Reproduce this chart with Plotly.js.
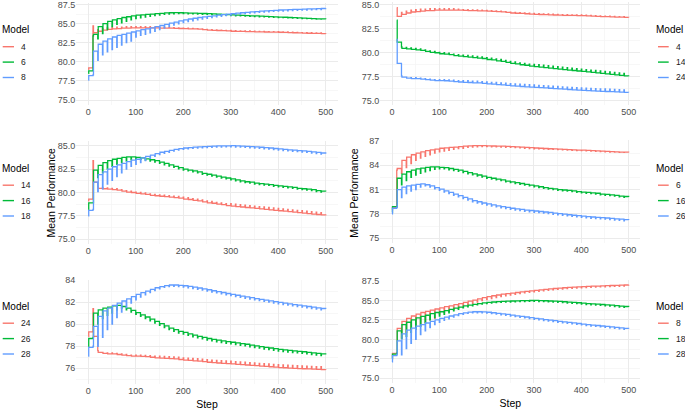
<!DOCTYPE html>
<html>
<head>
<meta charset="utf-8">
<script src="https://cdn.plot.ly/plotly-3.0.1.min.js"></script>
<style>html,body{margin:0;padding:0;background:#fff;}#chart{width:685px;height:410px;}</style>
</head>
<body>
<div id="chart"></div>
<script>
// Training step (x): at each 10-step checkpoint a one-step value, then the level for the rest of the block
const steps = [0,1,10,11,20,21,30,31,40,41,50,51,60,61,70,71,80,81,90,91,100,101,110,111,120,121,130,131,140,141,150,151,160,161,170,171,180,181,190,191,200,201,210,211,220,221,230,231,240,241,250,251,260,261,270,271,280,281,290,291,300,301,310,311,320,321,330,331,340,341,350,351,360,361,370,371,380,381,390,391,400,401,410,411,420,421,430,431,440,441,450,451,460,461,470,471,480,481,490,491,500];

// Mean performance per model
const m4 = [79.0,79.2, 84.7,83.8, 84.2,84.0, 84.35,84.15, 84.45,84.25, 84.5,84.3, 84.55,84.35, 84.55,84.4, 84.6,84.4, 84.6,84.45, 84.6,84.45, 84.6,84.45, 84.6,84.45, 84.6,84.45, 84.55,84.45, 84.5,84.42, 84.5,84.4, 84.48,84.4, 84.46,84.38, 84.45,84.36, 84.42,84.35, 84.4,84.32, 84.38,84.3, 84.35,84.27, 84.3,84.22, 84.24,84.15, 84.2,84.12, 84.18,84.1, 84.15,84.07, 84.12,84.04, 84.1,84.0, 84.08,83.99, 84.06,83.97, 84.05,83.96, 84.03,83.94, 84.0,83.92, 83.98,83.91, 83.97,83.9, 83.96,83.89, 83.95,83.88, 83.95,83.87, 83.93,83.85, 83.9,83.82, 83.88,83.8, 83.85,83.78, 83.83,83.76, 83.81,83.74, 83.8,83.72, 83.78,83.71, 83.77,83.7, 83.68];
const m6 = [78.5,78.8, 83.4,83.6, 83.0,84.6, 83.7,85.0, 84.2,85.3, 84.6,85.5, 84.9,85.65, 85.1,85.8, 85.3,85.9, 85.5,86.0, 85.65,86.1, 85.75,86.15, 85.85,86.2, 85.95,86.25, 86.05,86.3, 86.1,86.35, 86.2,86.4, 86.25,86.42, 86.28,86.43, 86.3,86.42, 86.3,86.4, 86.28,86.38, 86.27,86.37, 86.25,86.35, 86.22,86.32, 86.2,86.3, 86.17,86.27, 86.14,86.24, 86.1,86.2, 86.07,86.17, 86.04,86.13, 86.02,86.1, 86.0,86.07, 85.97,86.04, 85.95,86.02, 85.92,86.0, 85.9,85.97, 85.87,85.94, 85.84,85.91, 85.82,85.88, 85.8,85.86, 85.77,85.83, 85.74,85.8, 85.72,85.77, 85.7,85.75, 85.67,85.72, 85.64,85.69, 85.62,85.66, 85.6,85.63, 85.58,85.61, 85.58];
const m8 = [77.6,78.2, 78.3,81.4, 80.2,82.3, 80.9,82.7, 81.3,83.0, 81.6,83.25, 81.9,83.45, 82.2,83.6, 82.5,83.75, 82.7,83.9, 83.25,84.05, 83.45,84.2, 83.6,84.3, 83.8,84.45, 84.0,84.6, 84.2,84.75, 84.4,84.9, 84.6,85.05, 84.8,85.2, 84.97,85.35, 85.12,85.5, 85.25,85.6, 85.37,85.7, 85.5,85.8, 85.59,85.87, 85.7,85.95, 85.79,86.02, 85.88,86.1, 85.96,86.17, 86.04,86.24, 86.1,86.3, 86.17,86.36, 86.24,86.42, 86.3,86.48, 86.36,86.53, 86.41,86.58, 86.46,86.63, 86.51,86.67, 86.55,86.7, 86.59,86.74, 86.63,86.78, 86.65,86.8, 86.68,86.83, 86.7,86.85, 86.73,86.87, 86.76,86.9, 86.78,86.92, 86.8,86.94, 86.82,86.96, 86.84,86.98, 87.0];
const m14 = [79.1,79.3, 83.4,81.1, 80.6,80.45, 80.55,80.4, 80.5,80.35, 80.45,80.3, 80.4,80.25, 80.3,80.15, 80.2,80.05, 80.15,80.0, 80.05,79.9, 80.0,79.85, 79.95,79.8, 79.85,79.7, 79.8,79.65, 79.75,79.6, 79.72,79.55, 79.67,79.5, 79.62,79.45, 79.57,79.4, 79.5,79.3, 79.45,79.25, 79.35,79.15, 79.3,79.1, 79.2,79.0, 79.1,78.9, 79.05,78.85, 78.95,78.75, 78.9,78.7, 78.82,78.6, 78.8,78.55, 78.75,78.5, 78.7,78.45, 78.65,78.4, 78.6,78.35, 78.55,78.3, 78.5,78.25, 78.45,78.2, 78.4,78.15, 78.35,78.1, 78.3,78.05, 78.25,78.0, 78.2,77.95, 78.15,77.9, 78.1,77.85, 78.05,77.8, 78.0,77.75, 77.95,77.7, 77.9,77.65, 77.85,77.6, 77.55];
const m16 = [78.2,78.9, 78.9,82.4, 81.6,82.9, 82.1,83.2, 82.5,83.4, 82.8,83.55, 83.0,83.65, 83.2,83.75, 83.35,83.8, 83.5,83.8, 83.55,83.75, 83.55,83.7, 83.45,83.6, 83.35,83.5, 83.25,83.4, 83.1,83.25, 82.95,83.1, 82.82,82.95, 82.68,82.8, 82.53,82.65, 82.4,82.5, 82.3,82.4, 82.2,82.3, 82.1,82.2, 81.95,82.05, 81.85,81.95, 81.75,81.85, 81.65,81.75, 81.55,81.65, 81.45,81.55, 81.35,81.45, 81.25,81.35, 81.15,81.25, 81.05,81.15, 81.0,81.1, 80.9,81.0, 80.85,80.95, 80.8,80.9, 80.75,80.85, 80.65,80.75, 80.6,80.7, 80.55,80.65, 80.5,80.6, 80.45,80.55, 80.35,80.45, 80.3,80.4, 80.25,80.35, 80.2,80.3, 80.1,80.2, 80.05,80.15, 80.1];
const m18 = [77.5,78.1, 78.2,81.1, 80.1,81.9, 80.4,82.2, 80.9,82.5, 81.3,82.75, 81.7,82.95, 82.1,83.1, 82.5,83.3, 82.8,83.45, 83.0,83.55, 83.2,83.7, 83.4,83.85, 83.65,84.0, 83.85,84.15, 84.05,84.3, 84.18,84.4, 84.3,84.5, 84.42,84.6, 84.52,84.68, 84.6,84.75, 84.66,84.8, 84.72,84.85, 84.75,84.88, 84.78,84.9, 84.8,84.93, 84.83,84.95, 84.85,84.97, 84.86,84.98, 84.87,84.99, 84.88,85.0, 84.86,84.98, 84.84,84.96, 84.81,84.93, 84.78,84.9, 84.75,84.87, 84.71,84.83, 84.67,84.79, 84.63,84.75, 84.58,84.7, 84.53,84.65, 84.48,84.6, 84.44,84.56, 84.4,84.52, 84.36,84.48, 84.32,84.44, 84.28,84.4, 84.22,84.34, 84.16,84.28, 84.1,84.22, 84.15];
const m24 = [78.9,79.3, 81.4,78.9, 77.6,77.45, 77.45,77.35, 77.4,77.3, 77.4,77.3, 77.35,77.25, 77.3,77.2, 77.25,77.15, 77.2,77.1, 77.2,77.1, 77.2,77.08, 77.17,77.05, 77.15,77.0, 77.1,76.95, 77.1,76.92, 77.08,76.9, 77.05,76.87, 77.03,76.85, 77.0,76.8, 76.95,76.75, 76.92,76.72, 76.9,76.68, 76.87,76.65, 76.82,76.6, 76.78,76.55, 76.75,76.52, 76.72,76.48, 76.7,76.45, 76.67,76.42, 76.65,76.4, 76.6,76.36, 76.58,76.33, 76.55,76.3, 76.52,76.27, 76.5,76.24, 76.45,76.2, 76.42,76.17, 76.4,76.14, 76.36,76.1, 76.33,76.07, 76.3,76.05, 76.28,76.02, 76.26,76.0, 76.24,75.98, 76.22,75.96, 76.2,75.94, 76.18,75.92, 76.16,75.9, 76.14,75.88, 75.87];
const m26 = [78.0,78.7, 78.8,81.0, 80.0,81.3, 80.5,81.45, 80.8,81.55, 81.0,81.65, 81.3,81.7, 81.45,81.6, 81.3,81.45, 81.1,81.25, 80.9,81.05, 80.7,80.85, 80.5,80.65, 80.3,80.45, 80.1,80.25, 79.9,80.05, 79.7,79.85, 79.5,79.65, 79.35,79.5, 79.2,79.35, 79.1,79.25, 78.98,79.12, 78.86,79.0, 78.76,78.9, 78.66,78.8, 78.56,78.7, 78.48,78.62, 78.4,78.55, 78.33,78.48, 78.27,78.42, 78.21,78.36, 78.15,78.3, 78.09,78.24, 78.03,78.18, 77.95,78.1, 77.88,78.03, 77.82,77.97, 77.75,77.9, 77.69,77.84, 77.63,77.78, 77.57,77.72, 77.52,77.67, 77.47,77.62, 77.43,77.58, 77.39,77.54, 77.35,77.5, 77.3,77.45, 77.25,77.4, 77.2,77.35, 77.15,77.3, 77.25];
const m28 = [77.1,77.9, 78.0,79.8, 78.0,80.7, 78.8,81.2, 79.5,81.45, 80.0,81.7, 80.6,81.9, 81.1,82.1, 81.5,82.3, 81.9,82.5, 82.2,82.7, 82.45,82.85, 82.65,83.0, 82.85,83.15, 83.05,83.3, 83.2,83.4, 83.33,83.5, 83.4,83.55, 83.42,83.55, 83.4,83.52, 83.36,83.48, 83.3,83.42, 83.23,83.35, 83.16,83.28, 83.08,83.2, 83.0,83.12, 82.91,83.03, 82.83,82.95, 82.75,82.87, 82.66,82.78, 82.58,82.7, 82.5,82.62, 82.42,82.54, 82.35,82.47, 82.28,82.4, 82.2,82.32, 82.13,82.25, 82.06,82.18, 81.99,82.11, 81.92,82.04, 81.85,81.97, 81.78,81.9, 81.72,81.84, 81.66,81.78, 81.6,81.72, 81.54,81.66, 81.48,81.6, 81.42,81.54, 81.36,81.48, 81.3,81.42, 81.37];

const models = {"4": m4, "6": m6, "8": m8, "14": m14, "16": m16, "18": m18, "24": m24, "26": m26, "28": m28};

// Which models are compared in each panel (reading order)
const panelModels = [["4","6","8"], ["4","14","24"], ["14","16","18"], ["6","16","26"], ["24","26","28"], ["8","18","28"]];
const panelStart = [0, 10, 0, 0, 0, 0];
const colors = ["#F8766D", "#00BA38", "#619CFF"];
const legendTitle = "Model";
const yTitle = "Mean Performance";
const xTitle = "Step";

const W = 685, H = 410;
const FONT = "'Liberation Sans', Arial, sans-serif";
const traces = [];
const shapes = [];
const annotations = [];

// legend placement (pixels): title centre y per row, left/right column x positions
const legTitleY = [30, 168.5, 306.5];
const legCol = [{ title: 0.5, k0: 2.7, k1: 14, lab: 19.5 }, { title: 655.3, k0: 658, k1: 668.7, lab: 674.5 }];

panelModels.forEach(function (list, p) {
  const ax = p === 0 ? "" : String(p + 1);
  const col = p % 2, row = Math.floor(p / 2);
  const lc = legCol[col];
  annotations.push({
    xref: "paper", yref: "paper", x: lc.title / W, y: 1 - legTitleY[row] / H,
    xanchor: "left", yanchor: "middle", showarrow: false, text: legendTitle,
    font: { size: 10, color: "#000", family: FONT }, borderpad: 0
  });
  list.forEach(function (name, j) {
    const ys = models[name];
    const xs = [], yy = [];
    for (let i = 0; i < steps.length; i++) {
      if (steps[i] >= panelStart[p]) { xs.push(steps[i]); yy.push(ys[i]); }
    }
    traces.push({
      type: "scatter", mode: "lines", x: xs, y: yy, name: name,
      xaxis: "x" + ax, yaxis: "y" + ax, showlegend: false,
      line: { color: colors[j], width: 1.3, shape: "hv" },
      hoverinfo: "skip"
    });
    const ky = legTitleY[row] + 16.7 + 15.4 * j;
    shapes.push({
      type: "line", xref: "paper", yref: "paper",
      x0: lc.k0 / W, x1: lc.k1 / W, y0: 1 - ky / H, y1: 1 - ky / H,
      line: { color: colors[j], width: 1.4 }
    });
    annotations.push({
      xref: "paper", yref: "paper", x: lc.lab / W, y: 1 - ky / H,
      xanchor: "left", yanchor: "middle", showarrow: false, text: name,
      font: { size: 8.5, color: "#1A1A1A", family: FONT }, borderpad: 0
    });
  });
});

// y-axis titles of the middle row
annotations.push({ xref: "paper", yref: "paper", x: 50 / W, y: 1 - 192.5 / H, xanchor: "center", yanchor: "middle",
  showarrow: false, textangle: -90, text: yTitle, font: { size: 10.5, color: "#000", family: FONT } });
annotations.push({ xref: "paper", yref: "paper", x: 353.7 / W, y: 1 - 193 / H, xanchor: "center", yanchor: "middle",
  showarrow: false, textangle: -90, text: yTitle, font: { size: 10.5, color: "#000", family: FONT } });

const grid = "#EBEBEB";
function xa(domain, anchor, title) {
  const a = {
    domain: domain, anchor: anchor, range: [-25, 525], tick0: 0, dtick: 100,
    showgrid: true, gridcolor: grid, gridwidth: 1, zeroline: false, showline: false, ticks: "",
    tickfont: { size: 9, color: "#4D4D4D", family: FONT }, ticklabeloverflow: "allow",
    minor: { dtick: 50, showgrid: true, gridcolor: "#F3F3F3", gridwidth: 0.7 }
  };
  if (title) a.title = { text: title, font: { size: 10.5, color: "#000", family: FONT }, standoff: 5 };
  return a;
}
function ya(domain, anchor, range, t0, dt, fmt) {
  return {
    domain: domain, anchor: anchor, range: range, tick0: t0, dtick: dt, tickformat: fmt,
    showgrid: true, gridcolor: grid, gridwidth: 1, zeroline: false, showline: false, ticks: "",
    tickfont: { size: 9, color: "#4D4D4D", family: FONT }, ticklabeloverflow: "allow",
    minor: { dtick: dt / 2, showgrid: true, gridcolor: "#F3F3F3", gridwidth: 0.7 }
  };
}
const L = [0.1115, 0.4928], R = [0.5550, 0.9350];
const layout = {
  width: W, height: H, margin: { l: 0, r: 0, t: 0, b: 0 },
  paper_bgcolor: "#fff", plot_bgcolor: "#fff", showlegend: false,
  font: { family: FONT },
  xaxis: xa(L, "y"), yaxis: ya([0.7449, 0.9918], "x", [74.4, 87.65], 75, 2.5, ".1f"),
  xaxis2: xa(R, "y2"), yaxis2: ya([0.7429, 0.9950], "x2", [74.51, 85.29], 75, 2.5, ".1f"),
  xaxis3: xa(L, "y3"), yaxis3: ya([0.4049, 0.6561], "x3", [74.5, 85.5], 75, 2.5, ".1f"),
  xaxis4: xa(R, "y4"), yaxis4: ya([0.4076, 0.6576], "x4", [74.43, 87.07], 75, 3, ".0f"),
  xaxis5: xa(L, "y5", xTitle), yaxis5: ya([0.0632, 0.3178], "x5", [74.57, 84.03], 76, 2, ".0f"),
  xaxis6: xa(R, "y6", xTitle), yaxis6: ya([0.0659, 0.3166], "x6", [74.4, 87.6], 75, 2.5, ".1f"),
  shapes: shapes, annotations: annotations
};
Plotly.newPlot("chart", traces, layout, { staticPlot: true, displayModeBar: false });
</script>
</body>
</html>
